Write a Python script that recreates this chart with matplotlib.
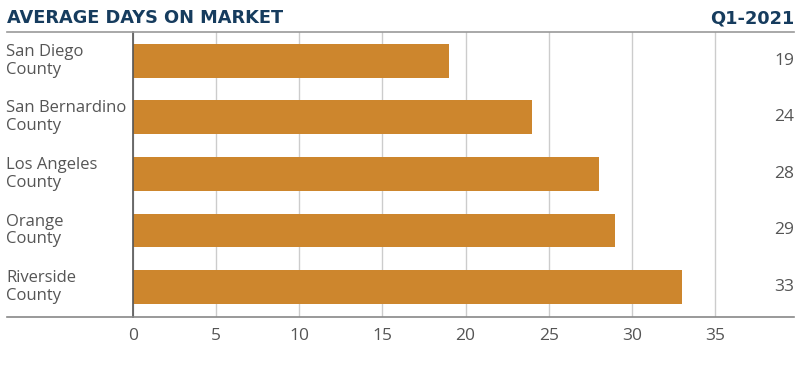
import numpy as np
import matplotlib.pyplot as plt
from matplotlib.lines import Line2D

counties = ["San Diego\nCounty", "San Bernardino\nCounty", "Los Angeles\nCounty",
            "Orange\nCounty", "Riverside\nCounty"]
days = [19, 24, 28, 29, 33]
ticks = [0, 5, 10, 15, 20, 25, 30, 35]

title = "AVERAGE DAYS ON MARKET"
period = "Q1-2021"

bar_color = "#CD862D"
navy = "#163C5E"
text_gray = "#555555"

plt.rcParams["font.family"] = ["Open Sans", "DejaVu Sans"]

fig = plt.figure(figsize=(8, 3.67), dpi=100)
ax = fig.add_axes([133 / 800, 1 - 317 / 367, (794 - 133) / 800, (317 - 32) / 367])

y = np.arange(len(counties))
ax.barh(y, days, height=0.6, color=bar_color, zorder=3)
ax.set_ylim(len(counties) - 0.47, -0.51)
ax.set_xlim(0, 39.75)

ax.set_xticks(ticks)
ax.set_xticklabels([str(t) for t in ticks], fontsize=12.5, color=text_gray)
ax.tick_params(axis="x", length=0, pad=8)
ax.set_yticks([])
ax.grid(axis="x", color="#cccccc", linewidth=1, zorder=0)
for s in ["top", "right", "bottom"]:
    ax.spines[s].set_visible(False)
ax.spines["left"].set_color("#555555")
ax.spines["left"].set_linewidth(1.2)
ax.spines["left"].set_zorder(4)

for yi, (name, val) in enumerate(zip(counties, days)):
    ax.annotate(name, xy=(0, yi), xycoords=("figure fraction", "data"),
                xytext=(6, 0), textcoords="offset pixels",
                ha="left", va="center", fontsize=12, color=text_gray, linespacing=1.15)
    ax.annotate(str(val), xy=(1, yi), xycoords=("figure fraction", "data"),
                xytext=(-6, 0), textcoords="offset pixels",
                ha="right", va="center", fontsize=12.5, color=text_gray)

# horizontal rules at top and bottom, spanning the full width
for yy, col in [(1 - 32 / 367, "#999999"), (1 - 317 / 367, "#888888")]:
    fig.add_artist(Line2D([7 / 800, 794 / 800], [yy, yy], color=col, linewidth=1.2,
                          transform=fig.transFigure))

fig.text(7 / 800, 1 - 18 / 367, title, ha="left", va="center", fontsize=12.8,
         fontweight="bold", color=navy, family="DejaVu Sans")
fig.text(794 / 800, 1 - 18 / 367, period, ha="right", va="center", fontsize=12.8,
         fontweight="bold", color=navy, family="DejaVu Sans")

fig.savefig("out.png", dpi=100)
